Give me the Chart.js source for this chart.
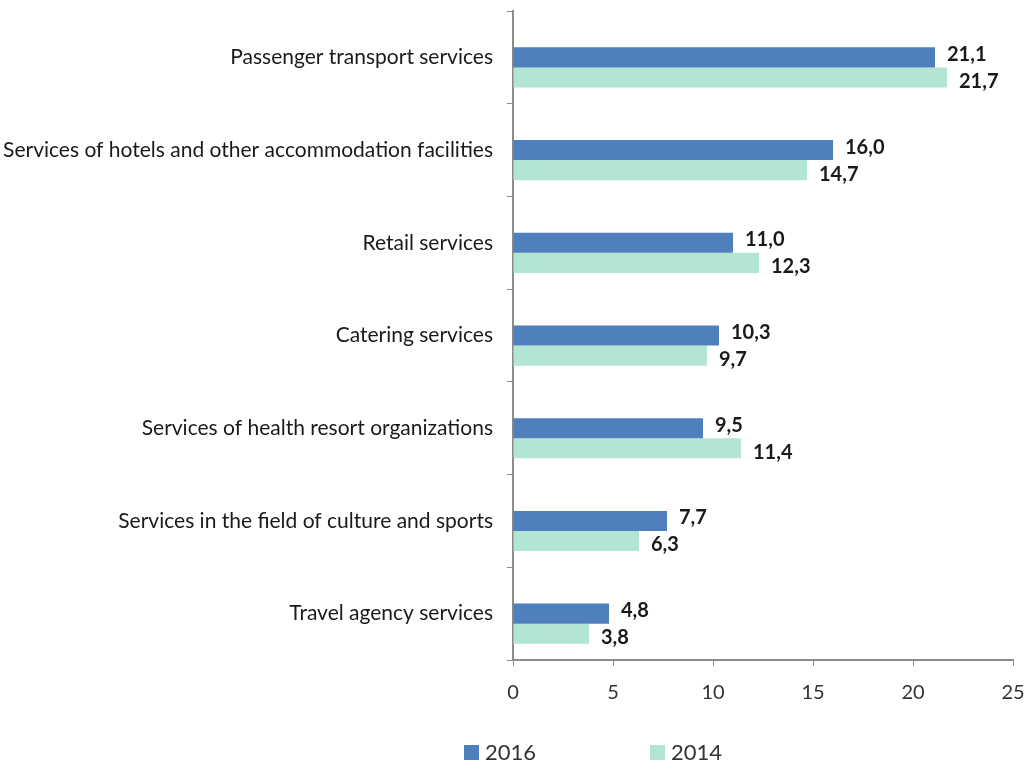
<!DOCTYPE html>
<html>
<head>
<meta charset="utf-8">
<title>Paid services structure</title>
<script src="https://cdn.jsdelivr.net/npm/chart.js@4.4.0/dist/chart.umd.min.js"></script>
<style>
  html, body { margin: 0; padding: 0; background: #fff; }
  #wrap { position: relative; width: 1027px; height: 762px; }
</style>
</head>
<body>
<div id="wrap">
  <canvas id="servicesChart" width="1027" height="762"></canvas>
</div>
<script>
const categories = [
  "Passenger transport services",
  "Services of hotels and other accommodation facilities",
  "Retail services",
  "Catering services",
  "Services of health resort organizations",
  "Services in the field of culture and sports",
  "Travel agency services"
];
const values2016 = [21.1, 16.0, 11.0, 10.3, 9.5, 7.7, 4.8];
const values2014 = [21.7, 14.7, 12.3, 9.7, 11.4, 6.3, 3.8];
const xTicks = [0, 5, 10, 15, 20, 25];

const BLUE = "#4f7fbd";
const AQUA = "#b2e6d3";
const FONT = "Lato, 'Open Sans', sans-serif";

// comma decimal, one digit
const fmt = v => v.toFixed(1).replace(".", ",");

// value labels to the right of each bar end
const valueLabels = {
  id: "valueLabels",
  afterDatasetsDraw(chart) {
    const ctx = chart.ctx;
    ctx.save();
    ctx.font = "bold 20px " + FONT;
    ctx.fillStyle = "#1a1a1a";
    ctx.textBaseline = "middle";
    ctx.textAlign = "left";
    chart.data.datasets.forEach((ds, i) => {
      if (!ds.showValues) return;
      const meta = chart.getDatasetMeta(i);
      meta.data.forEach((bar, j) => {
        const dy = ds.label === "2016" ? -3 : 4;
        ctx.fillText(fmt(ds.data[j]), bar.x + 12, bar.y + dy);
      });
    });
    ctx.restore();
  }
};

// legend row under the axis
const bottomLegend = {
  id: "bottomLegend",
  afterDraw(chart) {
    const ctx = chart.ctx;
    const spots = [464, 650];
    ctx.save();
    ctx.font = "22px " + FONT;
    ctx.textBaseline = "middle";
    ctx.textAlign = "left";
    chart.data.datasets.filter(d => d.showValues).forEach((ds, k) => {
      const x = spots[k];
      ctx.fillStyle = ds.backgroundColor;
      ctx.fillRect(x, 745, 15, 15);
      ctx.fillStyle = "#333";
      ctx.fillText(ds.label, x + 21, 753);
    });
    ctx.restore();
  }
};

new Chart(document.getElementById("servicesChart"), {
  type: "bar",
  data: {
    labels: categories,
    datasets: [
      // empty slot that keeps the pair below the category centre
      { label: "", data: [], backgroundColor: "rgba(0,0,0,0)", showValues: false },
      { label: "2016", data: values2016, backgroundColor: BLUE, showValues: true },
      { label: "2014", data: values2014, backgroundColor: AQUA, showValues: true }
    ]
  },
  options: {
    indexAxis: "y",
    responsive: false,
    animation: false,
    datasets: {
      bar: { categoryPercentage: 0.65, barPercentage: 1.0 }
    },
    layout: { padding: { top: 11, right: 14, bottom: 52, left: 0 } },
    plugins: {
      legend: { display: false },
      tooltip: { enabled: false }
    },
    scales: {
      x: {
        min: 0,
        max: 25,
        afterBuildTicks: s => { s.ticks = xTicks.map(v => ({ value: v })); },
        afterFit: s => { s.height = 50; s.paddingLeft = 0; s.paddingRight = 0; },
        border: { color: "#8c8c8c", width: 2 },
        grid: { drawOnChartArea: false, tickLength: 6, color: "#8c8c8c", lineWidth: 1 },
        ticks: { color: "#333", padding: 15, font: { family: FONT, size: 20 } }
      },
      y: {
        afterFit: s => { s.width = 513; s.paddingTop = 0; s.paddingBottom = 0; },
        border: { color: "#8c8c8c", width: 2 },
        grid: { drawOnChartArea: false, tickLength: 6, color: "#8c8c8c", lineWidth: 1, offset: true },
        ticks: { color: "#1a1a1a", padding: 14, font: { family: FONT, size: 21 } }
      }
    }
  },
  plugins: [valueLabels, bottomLegend]
});
</script>
</body>
</html>
